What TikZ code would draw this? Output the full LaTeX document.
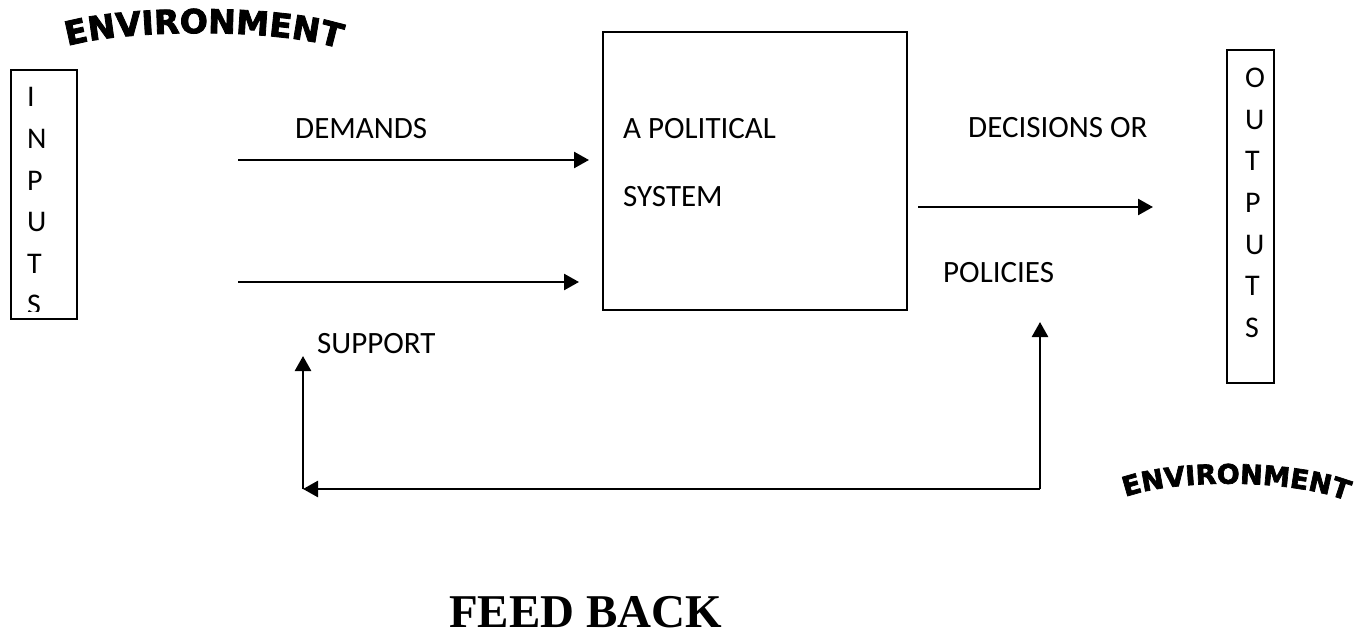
\documentclass[tikz,border=0pt]{standalone}
\usepackage{fontspec}
\setmainfont{Carlito}
\newfontfamily\envfont{DejaVu Sans}[BoldFeatures={FakeBold=2.5}]
\newfontfamily\fbfont{Liberation Serif}
\usetikzlibrary{arrows.meta,decorations.text}
\newcommand\envbig{\envfont\bfseries\fontsize{33}{38}\selectfont}
\newcommand\envsmall{\envfont\bfseries\fontsize{27}{32}\selectfont}
\begin{document}
\begin{tikzpicture}[x=1pt,y=-1pt,
  lbl/.style={anchor=base west,inner sep=0pt,font=\fontsize{31}{36}\selectfont},
  ltr/.style={anchor=base west,inner sep=0pt,font=\fontsize{30}{36}\selectfont},
  boxed/.style={draw,line width=1.8pt,inner sep=0pt,anchor=north west},
  arr/.style={line width=2.6pt,-{Triangle[length=15pt,width=16pt]}},
  envtext/.style={decorate,decoration={text along path,text={#1},text align=center}}]
\fill[white] (0,0) rectangle (1362,639);
\useasboundingbox (0,0) rectangle (1362,639);

% boxes
\node[boxed,minimum width=66pt,minimum height=249pt] (inputs) at (10,69) {};
\node[boxed,minimum width=304pt,minimum height=278pt] (sys) at (602,31) {};
\node[boxed,minimum width=47pt,minimum height=333pt] (outputs) at (1226,49) {};

% INPUTS letters
\node[ltr] (i1) at (27,107) {I};
\node[ltr] (i2) at (27,148.5) {N};
\node[ltr] (i3) at (27,190) {P};
\node[ltr] (i4) at (27,231.5) {U};
\node[ltr] (i5) at (27,273) {T};
\begin{scope}
  \clip (10,69) rectangle (76,311);
  \node[ltr] (i6) at (27,314.5) {S};
\end{scope}

% OUTPUTS letters
\node[ltr] (o1) at (1245,88) {O};
\node[ltr] (o2) at (1245,129.5) {U};
\node[ltr] (o3) at (1245,171) {T};
\node[ltr] (o4) at (1245,212.5) {P};
\node[ltr] (o5) at (1245,254) {U};
\node[ltr] (o6) at (1245,295.5) {T};
\node[ltr] (o7) at (1245,337) {S};

% labels
\node[lbl] (demands) at (295,139) {DEMANDS};
\node[lbl] (apol) at (623,139) {A POLITICAL};
\node[lbl] (system) at (623,207) {SYSTEM};
\node[lbl] (decis) at (968,138) {DECISIONS OR};
\node[lbl] (policies) at (943,282) {POLICIES};
\node[lbl] (support) at (317,353) {SUPPORT};
\node[anchor=base west,inner sep=0pt,text depth=0pt,font=\fbfont\bfseries\fontsize{47}{56}\selectfont] (fb) at (449,627) {FEED BACK};

% connectors
\coordinate (dS) at (238,160);
\coordinate (sS) at (238,282);
\coordinate (oS) at (918,207);
\coordinate (oE) at (1153,207);
\coordinate (fR) at (1040,489);
\coordinate (fL) at (303,489);
\coordinate (polTip) at (1040,322);
\coordinate (supTip) at (303,356);
\draw[arr] (dS) -- ([xshift=-13pt]sys.west |- dS);
\draw[arr] (sS) -- ([xshift=-23pt]sys.west |- sS);
\draw[arr] (oS) -- (oE);
\draw[arr] (fR) -- (polTip);
\draw[arr] (fR) -- (fL);
\draw[arr] (fL) -- (supTip);

% ENVIRONMENT arcs
\path[envtext={|\envbig|ENVIRONMENT}] (56,50) .. controls (108,28) and (292,26) .. (351,53);
\path[envtext={|\envsmall|ENVIRONMENT}] (1114,502) .. controls (1160,477) and (1305,477) .. (1358,506);
\end{tikzpicture}
\end{document}
